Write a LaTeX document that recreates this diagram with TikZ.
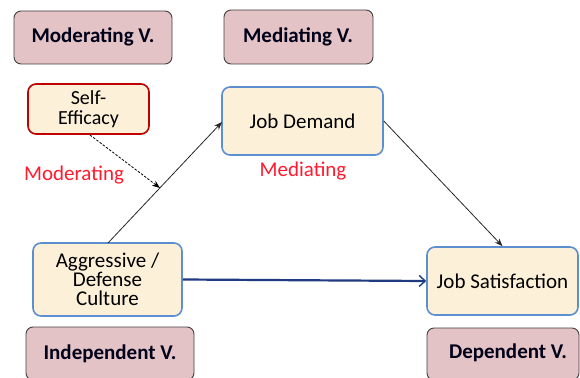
\documentclass[tikz,border=0pt]{standalone}
\usepackage{fontspec}
\setmainfont{Carlito}
\usetikzlibrary{arrows.meta}
\definecolor{pinkfill}{HTML}{E4C3C6}
\definecolor{creamfill}{HTML}{FCF0D9}
\definecolor{boxblue}{HTML}{5B8FD0}
\definecolor{boxred}{HTML}{C00000}
\definecolor{navy}{HTML}{1F3A80}
\definecolor{labred}{HTML}{FF1A2E}
\begin{document}
\begin{tikzpicture}[x=1pt,y=-1pt,
  vbox/.style={draw=black!75,line width=0.9pt,fill=pinkfill,rounded corners=7pt},
  vtext/.style={font=\bfseries\fontsize{21}{22}\selectfont,text=black!90!blue},
  cbox/.style={draw=boxblue,line width=1.6pt,fill=creamfill,rounded corners=8pt,font=\fontsize{21}{19}\selectfont,align=center,inner sep=0pt},
  lab/.style={text=labred,font=\fontsize{21}{22}\selectfont}]
\useasboundingbox (0,0) rectangle (580,377);
\path[vbox] (14,11) rectangle (172,64);
\node[vtext] (modv) at (93,37) {Moderating V.};
\path[vbox] (224,10) rectangle (373,64);
\node[vtext] (medv) at (298,37) {Mediating V.};
\path[vbox] (26,327) rectangle (194,380);
\node[vtext] (indv) at (110,354) {Independent V.};
\path[vbox] (427,328) rectangle (579,380);
\node[vtext] (depv) at (508,353) {Dependent V.};

\node[cbox,draw=boxred,minimum width=121pt,minimum height=50pt,font=\fontsize{20}{19.5}\selectfont] (se) at (88.5,109) {Self-\\Efficacy};
\node[cbox,minimum width=161pt,minimum height=68pt] (jd) at (302.5,121) {Job Demand};
\node[cbox,minimum width=149pt,minimum height=73pt] (ag) at (107.5,279.5) {Aggressive /\\Defense\\Culture};
\node[cbox,minimum width=151pt,minimum height=68pt] (js) at (502.5,281) {Job Satisfaction};

\node[lab] (modl) at (74,175) {Moderating};
\node[lab] (medl) at (303,171) {Mediating};

\coordinate (agtop) at (108,243);
\coordinate (jdin) at (222,122);
\coordinate (mid) at (160,188);
\draw[-{Stealth[length=8pt,width=6pt]},line width=0.8pt,black!85] (agtop) -- (jdin);
\draw[-{Stealth[length=8pt,width=6pt]},dashed,dash pattern=on 2.5pt off 1.5pt,line width=0.8pt] (90,135) -- (mid);
\draw[-{Stealth[length=8pt,width=6pt]},line width=0.8pt,black!85] (jd.east) -- (js.north);
\draw[-{Straight Barb[length=6pt,width=11pt,line width=1.4pt]},line width=2.2pt,navy] (ag.east) -- (js.west);
\end{tikzpicture}
\end{document}
